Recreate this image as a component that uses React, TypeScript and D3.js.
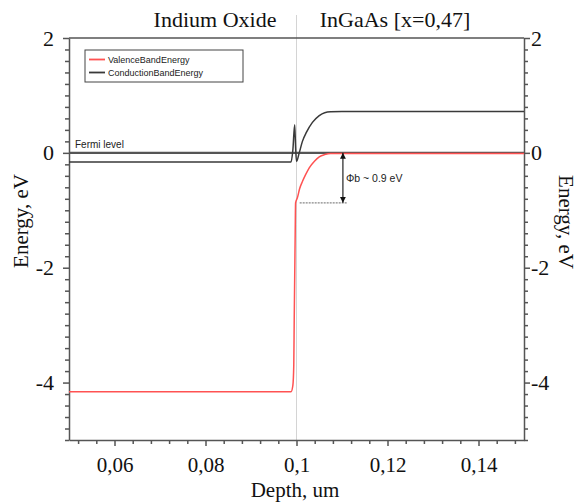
import React, { useEffect, useRef } from 'react';
import * as d3 from 'd3';

// band diagram values
const cbDepth = [0.05, 0.0988, 0.0992, 0.0996, 0.0998, 0.1, 0.1006, 0.1013, 0.1022, 0.1035, 0.105, 0.1062, 0.1075, 0.11, 0.15];
const cbEnergy = [-0.16, -0.16, 0.05, 0.49, 0.1, -0.15, 0.0, 0.2, 0.36, 0.53, 0.65, 0.7, 0.715, 0.72, 0.72];

const vbDepth = [0.05, 0.0988, 0.0992, 0.0994, 0.0995, 0.0997, 0.0998, 0.1002, 0.1007, 0.1013, 0.102, 0.1028, 0.104, 0.105, 0.1062, 0.1075, 0.15];
const vbEnergy = [-4.16, -4.16, -4.05, -3.7, -2.9, -1.5, -0.87, -0.78, -0.62, -0.5, -0.38, -0.26, -0.14, -0.07, -0.03, -0.01, -0.01];

const fermiDepth = [0.05, 0.15];
const fermiEnergy = [0, 0];

const xTicks = [0.06, 0.08, 0.1, 0.12, 0.14];
const xTickLabels = ['0,06', '0,08', '0,1', '0,12', '0,14'];
const yTicks = [2, 0, -2, -4];
const yTickLabels = ['2', '0', '-2', '-4'];

const interfaceDepth = 0.1;
const barrierDepth = 0.1102;
const barrierEnergy = -0.87;

const seriesNames = ['ValenceBandEnergy', 'ConductionBandEnergy'];

const serif = '"Liberation Serif", "Times New Roman", serif';
const sans = '"Liberation Sans", Arial, sans-serif';

function BandChart() {
  const ref = useRef<SVGSVGElement>(null);

  useEffect(() => {
    const svg = d3.select(ref.current);
    svg.selectAll('*').remove();

    const left = 69, right = 524, top = 38, bottom = 440;
    const axisColor = '#555';

    const x = d3.scaleLinear().domain([0.05, 0.15]).range([left, right]);
    const y = d3.scaleLinear().domain([-5, 2]).range([bottom, top]);

    // interface marker line
    svg.append('line')
      .attr('x1', x(interfaceDepth)).attr('x2', x(interfaceDepth))
      .attr('y1', 15).attr('y2', bottom)
      .attr('stroke', '#d4d4d4').attr('stroke-width', 1);

    // frame top
    svg.append('line')
      .attr('x1', left).attr('x2', right).attr('y1', top).attr('y2', top)
      .attr('stroke', axisColor).attr('stroke-width', 1.5);

    const minorX = d3.range(0.052, 0.1505, 0.004).filter(v => !xTicks.some(t => Math.abs(t - v) < 1e-6));
    const minorY = d3.range(-5, 2.001, 0.2).filter(v => !yTicks.some(t => Math.abs(t - v) < 1e-6));

    // bottom axis
    const gx = svg.append('g').attr('transform', `translate(0,${bottom})`);
    gx.call(d3.axisBottom(x).tickValues(minorX).tickSize(4).tickFormat(() => '').tickSizeOuter(0));
    gx.append('g').call(d3.axisBottom(x).tickValues(xTicks).tickSize(6).tickFormat((d, i) => xTickLabels[i]).tickSizeOuter(0))
      .call(g => g.select('.domain').remove());
    gx.selectAll('text').attr('font-family', serif).attr('font-size', 21).attr('fill', '#111').attr('dy', '1.1em');

    // left axis
    const gl = svg.append('g').attr('transform', `translate(${left},0)`);
    gl.call(d3.axisLeft(y).tickValues(minorY).tickSize(4).tickFormat(() => '').tickSizeOuter(0));
    gl.append('g').call(d3.axisLeft(y).tickValues(yTicks).tickSize(6).tickFormat((d, i) => yTickLabels[i]).tickSizeOuter(0))
      .call(g => g.select('.domain').remove());
    gl.selectAll('text').attr('font-family', serif).attr('font-size', 22).attr('fill', '#111').attr('x', -15);

    // right axis
    const gr = svg.append('g').attr('transform', `translate(${right},0)`);
    gr.call(d3.axisRight(y).tickValues(minorY).tickSize(4).tickFormat(() => '').tickSizeOuter(0));
    gr.append('g').call(d3.axisRight(y).tickValues(yTicks).tickSize(6).tickFormat((d, i) => yTickLabels[i]).tickSizeOuter(0))
      .call(g => g.select('.domain').remove());
    gr.selectAll('text').attr('font-family', serif).attr('font-size', 22).attr('fill', '#111').attr('x', 7);

    svg.selectAll('.domain, .tick line').attr('stroke', axisColor).attr('stroke-width', 1.5);

    const line = d3.line<[number, number]>()
      .x(d => x(d[0]))
      .y(d => y(d[1]));

    // fermi level
    svg.append('path')
      .datum(fermiDepth.map((d, i) => [d, fermiEnergy[i]] as [number, number]))
      .attr('d', line)
      .attr('fill', 'none').attr('stroke', '#555').attr('stroke-width', 2.2);

    svg.append('text')
      .attr('x', 75).attr('y', 148)
      .attr('font-family', sans).attr('font-size', 10).attr('fill', '#222')
      .text('Fermi level');

    // conduction band
    svg.append('path')
      .datum(cbDepth.map((d, i) => [d, cbEnergy[i]] as [number, number]))
      .attr('d', line.curve(d3.curveMonotoneX))
      .attr('fill', 'none').attr('stroke', '#3a3a3a').attr('stroke-width', 1.5);

    // valence band
    svg.append('path')
      .datum(vbDepth.map((d, i) => [d, vbEnergy[i]] as [number, number]))
      .attr('d', line.curve(d3.curveMonotoneX))
      .attr('fill', 'none').attr('stroke', '#ff5252').attr('stroke-width', 1.5);

    // barrier annotation
    svg.append('line')
      .attr('x1', x(0.1007)).attr('x2', x(0.1112))
      .attr('y1', y(barrierEnergy)).attr('y2', y(barrierEnergy))
      .attr('stroke', '#888').attr('stroke-width', 1.2).attr('stroke-dasharray', '2,1');

    const defs = svg.append('defs');
    defs.append('marker')
      .attr('id', 'arr').attr('viewBox', '0 0 10 10').attr('refX', 10).attr('refY', 5)
      .attr('markerWidth', 5).attr('markerHeight', 5).attr('orient', 'auto-start-reverse')
      .append('path').attr('d', 'M0,0L10,5L0,10z').attr('fill', '#111');

    svg.append('line')
      .attr('x1', x(barrierDepth)).attr('x2', x(barrierDepth))
      .attr('y1', y(0)).attr('y2', y(barrierEnergy))
      .attr('stroke', '#222').attr('stroke-width', 1.2)
      .attr('marker-start', 'url(#arr)').attr('marker-end', 'url(#arr)');

    svg.append('text')
      .attr('x', x(barrierDepth) + 3).attr('y', 182)
      .attr('font-family', sans).attr('font-size', 10.5).attr('fill', '#222')
      .text('Φb ~ 0.9 eV');

    // legend
    const lg = svg.append('g');
    lg.append('rect')
      .attr('x', 85).attr('y', 50).attr('width', 158).attr('height', 32)
      .attr('fill', '#fff').attr('stroke', '#444').attr('stroke-width', 1);
    const legendColors = ['#ff5252', '#3a3a3a'];
    seriesNames.forEach((name, i) => {
      const ly = 59.5 + i * 13;
      lg.append('line').attr('x1', 89).attr('x2', 105).attr('y1', ly).attr('y2', ly)
        .attr('stroke', legendColors[i]).attr('stroke-width', 1.8);
      lg.append('text').attr('x', 108).attr('y', ly + 3.3)
        .attr('font-family', sans).attr('font-size', 9).attr('fill', '#222')
        .text(name);
    });

    // titles
    svg.append('text').attr('x', 215).attr('y', 27).attr('text-anchor', 'middle')
      .attr('font-family', serif).attr('font-size', 22).attr('fill', '#111').text('Indium Oxide');
    svg.append('text').attr('x', 395).attr('y', 27).attr('text-anchor', 'middle')
      .attr('font-family', serif).attr('font-size', 22).attr('fill', '#111').text('InGaAs [x=0,47]');

    svg.append('text').attr('x', 295).attr('y', 497).attr('text-anchor', 'middle')
      .attr('font-family', serif).attr('font-size', 21).attr('fill', '#111').text('Depth, um');

    svg.append('text').attr('transform', `translate(28,221) rotate(-90)`).attr('text-anchor', 'middle')
      .attr('font-family', serif).attr('font-size', 21).attr('fill', '#111').text('Energy, eV');
    svg.append('text').attr('transform', `translate(559,222) rotate(90)`).attr('text-anchor', 'middle')
      .attr('font-family', serif).attr('font-size', 21).attr('fill', '#111').text('Energy, eV');
  }, []);

  return <svg ref={ref} width={584} height={504} style={{ position: 'absolute', left: 0, top: 0, background: '#fff' }} />;
}

export default function App() {
  return <BandChart />;
}
